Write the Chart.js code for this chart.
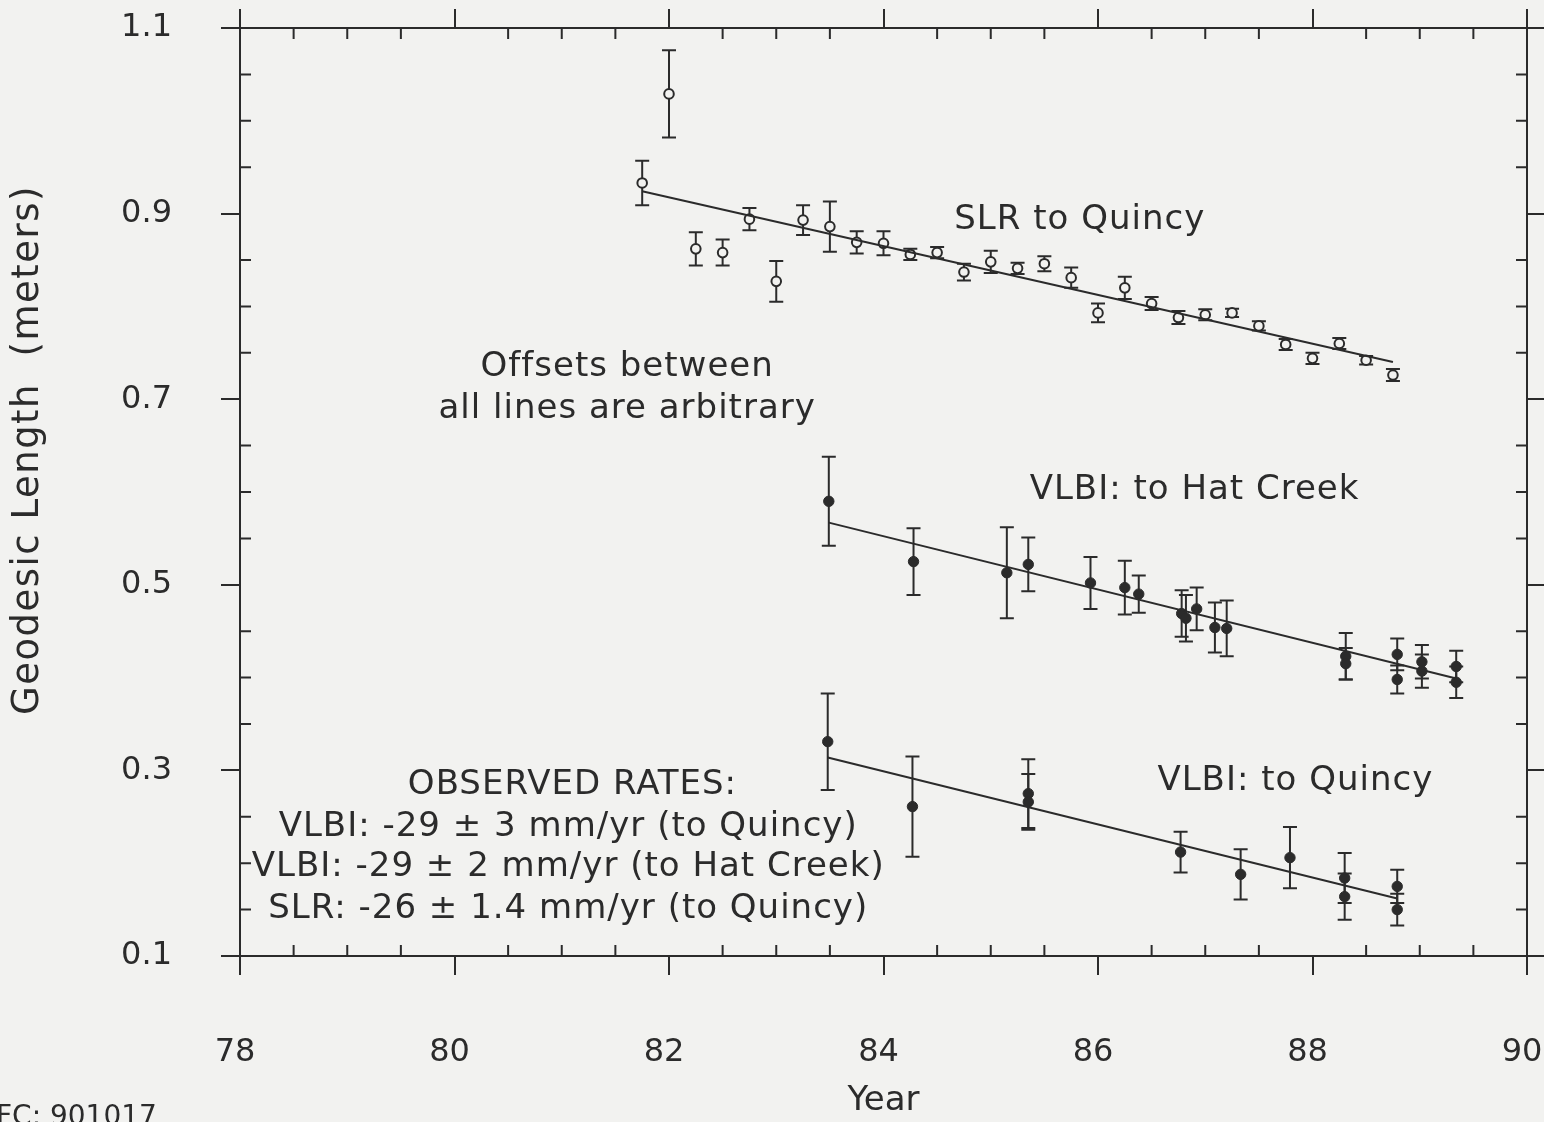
<!DOCTYPE html>
<html>
<head>
<meta charset="utf-8">
<script src="https://cdn.jsdelivr.net/npm/chart.js@4.4.1/dist/chart.umd.min.js"></script>
<style>
  body { margin: 0; background: #f2f2f0; }
  #wrap { width: 1544px; height: 1122px; position: relative; }
</style>
</head>
<body>
<div id="wrap"><canvas id="chart"></canvas></div>
<script>
// tick values
const xTicks = [78, 80, 82, 84, 86, 88, 90];
const yTicks = [0.1, 0.3, 0.5, 0.7, 0.9, 1.1];

// SLR to Quincy (open circles)
const slrYear = [81.75, 82.0, 82.25, 82.5, 82.75, 83.0, 83.25, 83.5, 83.75, 84.0, 84.25, 84.5, 84.75, 85.0, 85.25,
  85.5, 85.75, 86.0, 86.25, 86.5, 86.75, 87.0, 87.25, 87.5, 87.75, 88.0, 88.25, 88.5, 88.75];
const slrLen = [0.933, 1.029, 0.862, 0.858, 0.894, 0.827, 0.893, 0.886, 0.869, 0.868, 0.856, 0.858, 0.837, 0.848, 0.841,
  0.846, 0.831, 0.793, 0.820, 0.803, 0.788, 0.791, 0.793, 0.779, 0.759, 0.744, 0.760, 0.742, 0.726];
const slrErr = [0.024, 0.047, 0.018, 0.014, 0.012, 0.022, 0.016, 0.027, 0.012, 0.013, 0.006, 0.006, 0.009, 0.012, 0.006,
  0.008, 0.011, 0.010, 0.012, 0.007, 0.007, 0.006, 0.0045, 0.005, 0.006, 0.006, 0.006, 0.0045, 0.0065];

// VLBI to Hat Creek (filled)
const hatYear = [83.49, 84.28, 85.15, 85.35, 85.93, 86.25, 86.38, 86.78, 86.82, 86.92, 87.09, 87.20,
  88.31, 88.31, 88.79, 88.79, 89.02, 89.02, 89.34, 89.34];
const hatLen = [0.590, 0.525, 0.513, 0.522, 0.502, 0.497, 0.490, 0.469, 0.464, 0.474, 0.454, 0.453,
  0.423, 0.415, 0.425, 0.398, 0.417, 0.407, 0.412, 0.395];
const hatErr = [0.048, 0.036, 0.049, 0.029, 0.028, 0.029, 0.020, 0.025, 0.025, 0.023, 0.027, 0.030,
  0.025, 0.017, 0.017, 0.015, 0.018, 0.018, 0.017, 0.017];

// VLBI to Quincy (filled)
const quiYear = [83.48, 84.27, 85.35, 85.35, 86.77, 87.33, 87.79, 88.30, 88.30, 88.79, 88.79];
const quiLen = [0.331, 0.261, 0.275, 0.266, 0.212, 0.188, 0.206, 0.184, 0.164, 0.175, 0.150];
const quiErr = [0.052, 0.054, 0.037, 0.030, 0.022, 0.027, 0.033, 0.027, 0.025, 0.018, 0.017];

// fitted lines (end points)
const slrFitYear = [81.75, 88.75];
const slrFitLen = [0.924, 0.740];
const hatFitYear = [83.49, 89.34];
const hatFitLen = [0.567, 0.399];
const quiFitYear = [83.48, 88.79];
const quiFitLen = [0.314, 0.162];

const INK = '#2b2b2b';
const PAPER = '#f2f2f0';
const FONT = '"DejaVu Sans", sans-serif';

const pts = (xs, ys) => xs.map((x, i) => ({ x: x, y: ys[i] }));

const pointSet = (xs, ys, errs, open) => ({
  type: 'scatter',
  data: pts(xs, ys),
  err: errs,
  pointStyle: 'circle',
  pointRadius: open ? 4.8 : 5.2,
  pointBorderWidth: open ? 2 : 1,
  pointBorderColor: INK,
  pointBackgroundColor: open ? PAPER : INK,
  showLine: false,
});

const fitSet = (xs, ys) => ({
  type: 'line',
  data: pts(xs, ys),
  borderColor: INK,
  borderWidth: 2,
  pointRadius: 0,
  fill: false,
});

// vertical error bars, drawn under the markers
const errorBars = {
  id: 'errorBars',
  beforeDatasetsDraw(chart) {
    const { ctx, scales: { x, y } } = chart;
    ctx.save();
    ctx.strokeStyle = INK;
    ctx.lineWidth = 2;
    chart.data.datasets.forEach((ds) => {
      if (!ds.err) return;
      ds.data.forEach((p, i) => {
        const px = x.getPixelForValue(p.x);
        const top = y.getPixelForValue(p.y + ds.err[i]);
        const bot = y.getPixelForValue(p.y - ds.err[i]);
        ctx.beginPath();
        ctx.moveTo(px, top); ctx.lineTo(px, bot);
        ctx.moveTo(px - 7, top); ctx.lineTo(px + 7, top);
        ctx.moveTo(px - 7, bot); ctx.lineTo(px + 7, bot);
        ctx.stroke();
      });
    });
    ctx.restore();
  },
};

// inward minor ticks + text annotations
const extras = {
  id: 'extras',
  afterDraw(chart) {
    const { ctx, chartArea: a, scales: { x, y } } = chart;
    ctx.save();
    ctx.strokeStyle = INK;
    ctx.lineWidth = 2;
    ctx.beginPath();
    for (let v = 78.5; v < 90; v += 0.5) {
      if (v % 2 === 0) continue;
      const px = x.getPixelForValue(v);
      ctx.moveTo(px, a.bottom); ctx.lineTo(px, a.bottom - 11);
      ctx.moveTo(px, a.top); ctx.lineTo(px, a.top + 11);
    }
    for (let k = 1; k < 20; k++) {
      if (k % 4 === 0) continue;
      const py = y.getPixelForValue(0.1 + k * 0.05);
      ctx.moveTo(a.left, py); ctx.lineTo(a.left + 11, py);
      ctx.moveTo(a.right, py); ctx.lineTo(a.right - 11, py);
    }
    ctx.stroke();

    ctx.fillStyle = INK;
    ctx.font = '34px ' + FONT;
    ctx.letterSpacing = '1px';
    ctx.textAlign = 'center';
    ctx.textBaseline = 'middle';
    const put = (t, xv, yv) => ctx.fillText(t, x.getPixelForValue(xv), y.getPixelForValue(yv));
    put('SLR to Quincy', 85.83, 0.893);
    put('Offsets between', 81.61, 0.734);
    put('all lines are arbitrary', 81.61, 0.689);
    put('VLBI: to Hat Creek', 86.90, 0.602);
    put('VLBI: to Quincy', 87.84, 0.288);
    put('OBSERVED RATES:', 81.10, 0.284);
    put('VLBI: -29 \u00b1 3 mm/yr (to Quincy)', 81.06, 0.239);
    put('VLBI: -29 \u00b1 2 mm/yr (to Hat Creek)', 81.06, 0.196);
    put('SLR: -26 \u00b1 1.4 mm/yr (to Quincy)', 81.06, 0.151);

    ctx.save();
    ctx.font = '37px ' + FONT;
    ctx.letterSpacing = '1.5px';
    ctx.translate(28, 450);
    ctx.rotate(-Math.PI / 2);
    ctx.fillText('Geodesic Length  (meters)', 0, 0);
    ctx.restore();

    ctx.font = '28px ' + FONT;
    ctx.letterSpacing = '0px';
    ctx.textAlign = 'left';
    ctx.textBaseline = 'top';
    ctx.fillText('FC: 901017', -4, 1104);
    ctx.restore();
  },
};

const grid = {
  drawOnChartArea: false,
  drawTicks: true,
  tickLength: 19,
  color: INK,
  lineWidth: 2,
};
const border = { display: true, color: INK, width: 2 };
const setTicks = (vals) => (s) => { s.ticks = vals.map((v) => ({ value: v })); };
const fixSize = (prop, size) => (s) => {
  s[prop] = size;
  s.paddingTop = 0; s.paddingBottom = 0; s.paddingLeft = 0; s.paddingRight = 0;
};

new Chart(document.getElementById('chart').getContext('2d'), {
  data: {
    datasets: [
      fitSet(slrFitYear, slrFitLen),
      fitSet(hatFitYear, hatFitLen),
      fitSet(quiFitYear, quiFitLen),
      pointSet(slrYear, slrLen, slrErr, true),
      pointSet(hatYear, hatLen, hatErr, false),
      pointSet(quiYear, quiLen, quiErr, false),
    ],
  },
  options: {
    responsive: true,
    maintainAspectRatio: false,
    animation: false,
    layout: { padding: 0 },
    plugins: { legend: { display: false }, tooltip: { enabled: false } },
    scales: {
      x: {
        type: 'linear', position: 'bottom', min: 78, max: 90,
        afterBuildTicks: setTicks(xTicks),
        afterFit: fixSize('height', 166),
        grid, border,
        ticks: { color: INK, font: { family: FONT, size: 32 }, padding: 58, maxRotation: 0, labelOffset: -5 },
        title: { display: true, text: 'Year', color: INK, font: { family: FONT, size: 34 }, padding: 0 },
      },
      x2: {
        type: 'linear', position: 'top', min: 78, max: 90,
        afterBuildTicks: setTicks(xTicks),
        afterFit: fixSize('height', 28),
        grid, border,
        ticks: { display: false },
      },
      y: {
        type: 'linear', position: 'left', min: 0.1, max: 1.1,
        afterBuildTicks: setTicks(yTicks),
        afterFit: fixSize('width', 240),
        grid, border,
        ticks: { color: INK, font: { family: FONT, size: 32 }, padding: 49, callback: (v) => v.toFixed(1) },
      },
      y2: {
        type: 'linear', position: 'right', min: 0.1, max: 1.1,
        afterBuildTicks: setTicks(yTicks),
        afterFit: fixSize('width', 17),
        grid, border,
        ticks: { display: false },
      },
    },
  },
  plugins: [errorBars, extras],
});
</script>
</body>
</html>
